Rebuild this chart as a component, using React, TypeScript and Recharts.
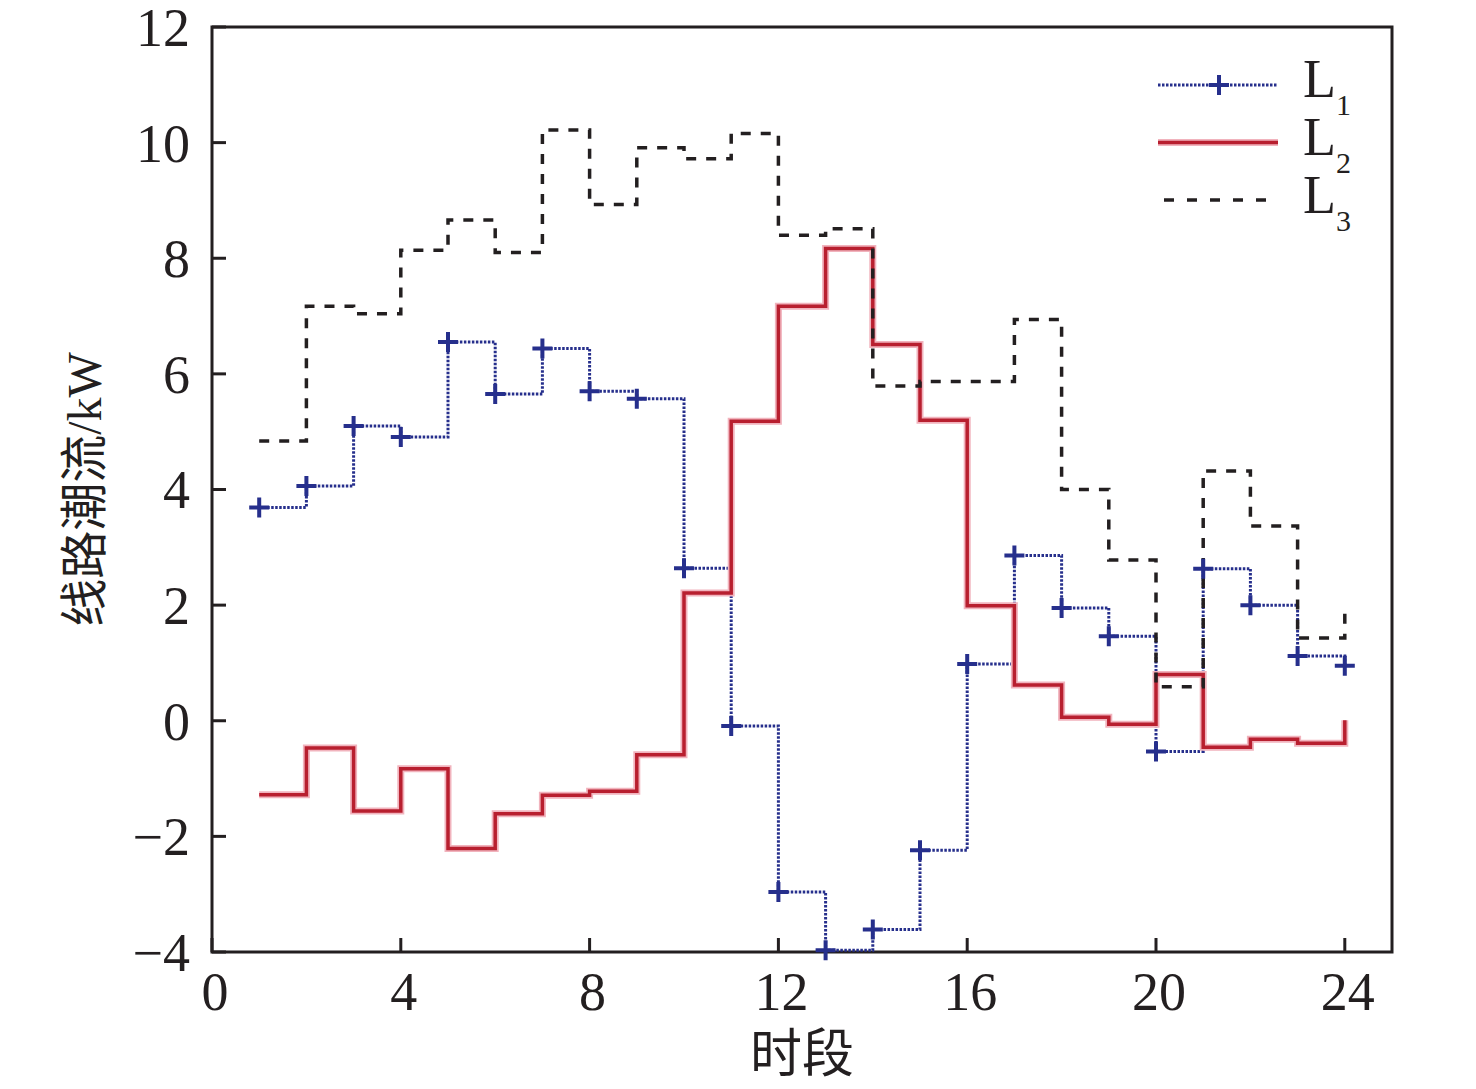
import React from "react";
import {
  LineChart,
  Line,
  XAxis,
  YAxis,
  ReferenceArea,
  Legend,
  Label,
} from "recharts";

// 时段 1..24
const hours = [1, 2, 3, 4, 5, 6, 7, 8, 9, 10, 11, 12, 13, 14, 15, 16, 17, 18, 19, 20, 21, 22, 23, 24];

// 线路潮流 (kW)
const flowL1 = [3.69, 4.06, 5.1, 4.91, 6.55, 5.65, 6.44, 5.7, 5.57, 2.64, -0.09, -2.96, -3.97, -3.61, -2.24, 0.98, 2.86, 1.95, 1.46, -0.53, 2.63, 2.0, 1.12, 0.95];
const flowL2 = [-1.28, -0.47, -1.56, -0.83, -2.21, -1.61, -1.29, -1.22, -0.59, 2.21, 5.18, 7.17, 8.17, 6.51, 5.2, 1.99, 0.62, 0.06, -0.06, 0.8, -0.46, -0.32, -0.39, 0.01];
const flowL3 = [4.84, 7.17, 7.04, 8.14, 8.66, 8.1, 10.22, 8.93, 9.91, 9.72, 10.16, 8.4, 8.51, 5.79, 5.87, 5.87, 6.94, 4.0, 2.78, 0.59, 4.32, 3.37, 1.43, 1.91];

const xTicks = [0, 4, 8, 12, 16, 20, 24];
const yTicks = [-4, -2, 0, 2, 4, 6, 8, 10, 12];
const legendNames = ["L1", "L2", "L3"];
const legendSubs = ["1", "2", "3"];

const data = hours.map((h, i) => ({
  hour: h,
  L1: flowL1[i],
  L2: flowL2[i],
  L3: flowL3[i],
}));

const INK = "#231f20";
const BLUE = "#262f8c";
const RED = "#b81f2f";
const HALO = "#f1b3bd";
const SERIF = "'Liberation Serif', 'Times New Roman', serif";
const CJK = "'Liberation Serif', 'Noto Sans CJK SC', sans-serif";
const TICK_FONT = 54;
const TICK_LEN = 14;
const Y_GAP = 22;
const X_GAP = 20;

const fmt = (v: number) => (v < 0 ? "\u2212" + Math.abs(v) : String(v));

const YTick = ({ x, y, payload }: any) => (
  <g>
    <line x1={x + Y_GAP} x2={x + Y_GAP + TICK_LEN} y1={y} y2={y} stroke={INK} strokeWidth={3} />
    <text x={x} y={y} dy="0.35em" textAnchor="end" fill={INK} fontSize={TICK_FONT} fontFamily={SERIF}>
      {fmt(payload.value)}
    </text>
  </g>
);

const XTick = ({ x, y, payload }: any) => (
  <g>
    <line x1={x} x2={x} y1={y - X_GAP} y2={y - X_GAP - TICK_LEN} stroke={INK} strokeWidth={3} />
    <text x={x + 3} y={y} dy="0.71em" textAnchor="middle" fill={INK} fontSize={TICK_FONT} fontFamily={SERIF}>
      {fmt(payload.value)}
    </text>
  </g>
);

const plusPath = (cx: number, cy: number, r: number) =>
  `M${cx - r},${cy}H${cx + r}M${cx},${cy - r}V${cy + r}`;

const renderPlus = (props: any) => {
  const { cx, cy, index } = props;
  if (cx == null || cy == null) return <g key={index} />;
  return <path key={index} d={plusPath(cx, cy, 10)} stroke={BLUE} strokeWidth={4} fill="none" />;
};

const renderLegend = () => (
  <svg width={240} height={200}>
    {legendNames.map((name, i) => {
      const ly = 35 + i * 57.5;
      const ty = 47 + i * 58;
      return (
        <g key={name}>
          {name === "L1" && (
            <>
              <line x1={8} x2={128} y1={ly} y2={ly} stroke={BLUE} strokeWidth={3} strokeDasharray="2.5 1.5" />
              <path d={plusPath(69, ly, 10)} stroke={BLUE} strokeWidth={4} />
            </>
          )}
          {name === "L2" && (
            <>
              <line x1={8} x2={128} y1={ly} y2={ly} stroke={HALO} strokeWidth={7} />
              <line x1={8} x2={128} y1={ly} y2={ly} stroke={RED} strokeWidth={3.5} />
            </>
          )}
          {name === "L3" && (
            <line x1={14} x2={128} y1={ly} y2={ly} stroke={INK} strokeWidth={3.5} strokeDasharray="10 13" />
          )}
          <text x={153} y={ty} fill={INK} fontSize={TICK_FONT} fontFamily={SERIF}>
            L
          </text>
          <text x={186} y={ty + 18} fill={INK} fontSize={30} fontFamily={SERIF}>
            {legendSubs[i]}
          </text>
        </g>
      );
    })}
  </svg>
);

export default function App() {
  return (
    <div style={{ position: "absolute", left: 0, top: 0, width: 1476, height: 1089, background: "#fff" }}>
      <LineChart width={1476} height={1089} data={data} margin={{ top: 27, right: 84, bottom: 0, left: 0 }}>
        <XAxis
          dataKey="hour"
          type="number"
          domain={[0, 25]}
          ticks={xTicks}
          height={137}
          axisLine={false}
          tickLine={false}
          tickSize={0}
          tickMargin={X_GAP}
          tick={<XTick />}
          interval={0}
        >
          <Label
            content={({ viewBox }: any) => (
              <text
                x={viewBox.x + viewBox.width / 2}
                y={viewBox.y + 102}
                textAnchor="middle"
                dominantBaseline="central"
                fill={INK}
                fontSize={52}
                fontFamily={CJK}
              >
                时段
              </text>
            )}
          />
        </XAxis>
        <YAxis
          type="number"
          domain={[-4, 12]}
          ticks={yTicks}
          width={212}
          axisLine={false}
          tickLine={false}
          tickSize={0}
          tickMargin={Y_GAP}
          tick={<YTick />}
          interval={0}
        >
          <Label
            content={({ viewBox }: any) => (
              <text
                transform={`translate(${viewBox.x + 84}, ${viewBox.y + viewBox.height / 2}) rotate(-90)`}
                textAnchor="middle"
                dominantBaseline="central"
                fill={INK}
                fontSize={48}
                fontFamily={CJK}
              >
                线路潮流/kW
              </text>
            )}
          />
        </YAxis>
        <ReferenceArea x1={0} x2={25} y1={-4} y2={12} fill="none" stroke={INK} strokeWidth={3} ifOverflow="visible" />
        <Legend
          layout="vertical"
          align="center"
          verticalAlign="middle"
          content={renderLegend}
          wrapperStyle={{ left: 1150, top: 50, width: 240, height: 200 }}
        />
        <Line
          type="stepAfter"
          dataKey="L1"
          stroke={BLUE}
          strokeWidth={3}
          strokeDasharray="2.5 1.5"
          dot={renderPlus}
          activeDot={false}
          isAnimationActive={false}
        />
        <Line
          type="stepAfter"
          dataKey="L2"
          stroke={HALO}
          strokeWidth={7}
          dot={false}
          activeDot={false}
          legendType="none"
          isAnimationActive={false}
        />
        <Line
          type="stepAfter"
          dataKey="L2"
          stroke={RED}
          strokeWidth={3.5}
          dot={false}
          activeDot={false}
          isAnimationActive={false}
        />
        <Line
          type="stepAfter"
          dataKey="L3"
          stroke={INK}
          strokeWidth={3.5}
          strokeDasharray="10 10"
          dot={false}
          activeDot={false}
          isAnimationActive={false}
        />
      </LineChart>
    </div>
  );
}
